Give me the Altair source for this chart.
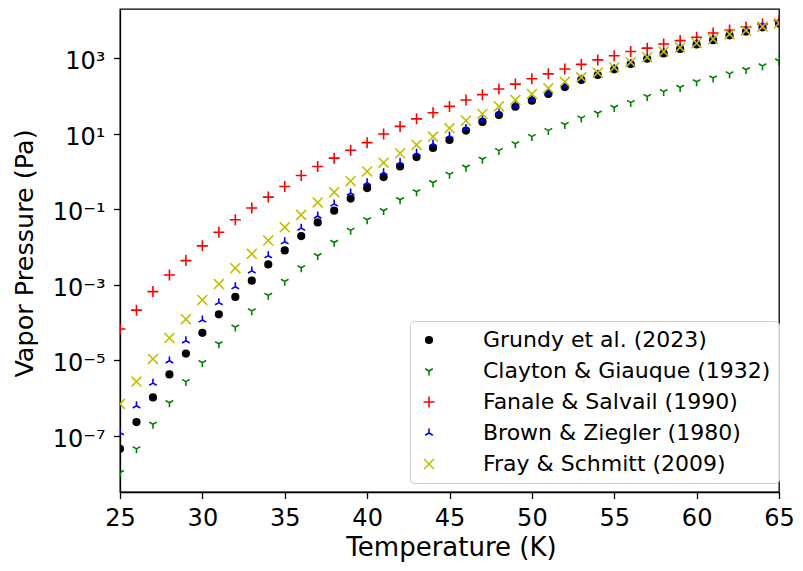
import altair as alt
import pandas as pd

temperature_k = list(range(25, 66))

series_names = [
    "Grundy et al. (2023)",
    "Clayton & Giauque (1932)",
    "Fanale & Salvail (1990)",
    "Brown & Ziegler (1980)",
    "Fray & Schmitt (2009)",
]

# log10 of vapor pressure (Pa), T = 25..65 K
grundy_log10 = [-7.34, -6.63, -5.98, -5.37, -4.82, -4.27, -3.78, -3.32, -2.89, -2.46,
                -2.09, -1.71, -1.35, -1.04, -0.72, -0.44, -0.15, 0.13, 0.38, 0.62,
                0.83, 1.08, 1.31, 1.49, 1.71, 1.87, 2.05, 2.23, 2.42, 2.55,
                2.70, 2.84, 2.98, 3.12, 3.24, 3.36, 3.47, 3.60, 3.70, 3.81, 3.91]
clayton_log10 = [-7.97, -7.34, -6.69, -6.12, -5.56, -5.06, -4.56, -4.12, -3.69, -3.28,
                 -2.91, -2.55, -2.23, -1.88, -1.56, -1.28, -1.04, -0.75, -0.54, -0.30,
                 -0.08, 0.11, 0.32, 0.55, 0.73, 0.92, 1.08, 1.24, 1.41, 1.54,
                 1.69, 1.82, 1.98, 2.11, 2.22, 2.37, 2.47, 2.58, 2.69, 2.79, 2.92]
fanale_log10 = [-4.17, -3.67, -3.18, -2.74, -2.36, -1.97, -1.61, -1.28, -0.97, -0.68,
                -0.40, -0.11, 0.13, 0.35, 0.56, 0.76, 0.99, 1.19, 1.39, 1.55,
                1.72, 1.89, 2.03, 2.18, 2.31, 2.45, 2.58, 2.71, 2.83, 2.95,
                3.06, 3.17, 3.26, 3.37, 3.46, 3.55, 3.66, 3.74, 3.82, 3.90, 3.99]
brown_log10 = [-6.91, -6.20, -5.60, -5.01, -4.48, -3.93, -3.47, -3.05, -2.63, -2.23,
               -1.86, -1.50, -1.18, -0.86, -0.57, -0.30, -0.03, 0.24, 0.48, 0.73,
               0.94, 1.14, 1.36, 1.54, 1.74, 1.90, 2.08, 2.25, 2.44, 2.57,
               2.72, 2.86, 3.00, 3.14, 3.26, 3.38, 3.49, 3.62, 3.72, 3.83, 3.93]
fray_log10 = [-6.15, -5.56, -4.96, -4.41, -3.91, -3.40, -2.98, -2.56, -2.18, -1.83,
              -1.48, -1.15, -0.82, -0.55, -0.26, 0.00, 0.23, 0.48, 0.70, 0.92,
              1.14, 1.34, 1.52, 1.72, 1.89, 2.05, 2.20, 2.37, 2.49, 2.61,
              2.75, 2.89, 3.02, 3.17, 3.28, 3.39, 3.50, 3.63, 3.73, 3.83, 3.92]

x_ticks = [25, 30, 35, 40, 45, 50, 55, 60, 65]
y_ticks = [1e-7, 1e-5, 1e-3, 1e-1, 1e1, 1e3]

stroke_colors = ["#000000", "#008000", "#ff0000", "#0000ff", "#bfbf00"]
fill_colors = ["#000000", "transparent", "transparent", "transparent", "transparent"]
marker_paths = [
    "M-0.6,0A0.6,0.6,0,1,1,0.6,0A0.6,0.6,0,1,1,-0.6,0Z",
    "M0,0L0,0.8M0,0L-0.69,-0.4M0,0L0.69,-0.4",
    "M-1,0L1,0M0,-1L0,1",
    "M0,0L0,-0.8M0,0L-0.69,0.4M0,0L0.69,0.4",
    "M-0.9,-0.9L0.9,0.9M-0.9,0.9L0.9,-0.9",
]

rows = []
for name, vals in zip(series_names, [grundy_log10, clayton_log10, fanale_log10, brown_log10, fray_log10]):
    for t, v in zip(temperature_k, vals):
        rows.append({"T": t, "P": 10 ** v, "series": name})
df = pd.DataFrame(rows)

FONT = "DejaVu Sans"

legend = alt.Legend(
    title=None, orient="none", legendX=290, legendY=312,
    labelFontSize=22, labelFont=FONT, labelColor="black", labelLimit=500,
    padding=8, rowPadding=9, symbolOffset=0, labelOffset=43,
    strokeColor="#cccccc", fillColor="rgba(255,255,255,0.8)", cornerRadius=4,
    symbolStrokeWidth=1.6, symbolSize=121,
)

sup_expr = ("'10' + replace(replace(replace(replace(replace(replace(replace("
            "'' + round(log(datum.value)/LN10), '-', '⁻'), '1', '¹'), '3', '³'), "
            "'5', '⁵'), '7', '⁷'), '9', '⁹'), '0', '⁰')")

chart = alt.Chart(df).mark_point(clip=True, size=121, strokeWidth=1.6, opacity=1).encode(
    x=alt.X("T:Q", scale=alt.Scale(domain=[25, 65], nice=False, zero=False),
            axis=alt.Axis(values=x_ticks, title="Temperature (K)", grid=False,
                          labelFontSize=24, labelFont=FONT, labelColor="black",
                          labelBaseline="alphabetic", labelPadding=27, labelFlush=False,
                          tickSize=6.5, tickWidth=1.3, tickColor="black",
                          domainColor="black", domainWidth=1.3,
                          titleFontSize=26, titleFont=FONT, titleFontWeight="normal",
                          titleColor="black", titleX=331, titleY=63.5,
                          titleBaseline="alphabetic", titleAlign="center")),
    y=alt.Y("P:Q", scale=alt.Scale(type="log", domain=[10 ** -8.481, 10 ** 4.296], nice=False, zero=False),
            axis=alt.Axis(values=y_ticks, title="Vapor Pressure (Pa)", grid=False,
                          labelExpr=sup_expr,
                          labelFontSize=24, labelFont=FONT, labelColor="black",
                          labelPadding=8.5, labelOffset=3.5, labelFlush=False,
                          tickSize=6.5, tickWidth=1.3, tickColor="black",
                          domainColor="black", domainWidth=1.3,
                          titleFontSize=25.5, titleFont=FONT, titleFontWeight="normal",
                          titleColor="black", titleX=-88, titleY=244,
                          titleBaseline="alphabetic", titleAlign="center", titleAngle=270)),
    stroke=alt.Stroke("series:N", scale=alt.Scale(domain=series_names, range=stroke_colors), legend=legend),
    fill=alt.Fill("series:N", scale=alt.Scale(domain=series_names, range=fill_colors), legend=legend),
    shape=alt.Shape("series:N", scale=alt.Scale(domain=series_names, range=marker_paths), legend=legend),
).properties(
    width=659, height=483,
    autosize=alt.AutoSizeParams(type="none"),
    padding={"left": 112, "top": 1, "right": 16, "bottom": 70},
    background="white",
).configure_view(stroke="black", strokeWidth=1.3)

chart.save("out.html", embed_options={"renderer": "svg", "actions": False})
